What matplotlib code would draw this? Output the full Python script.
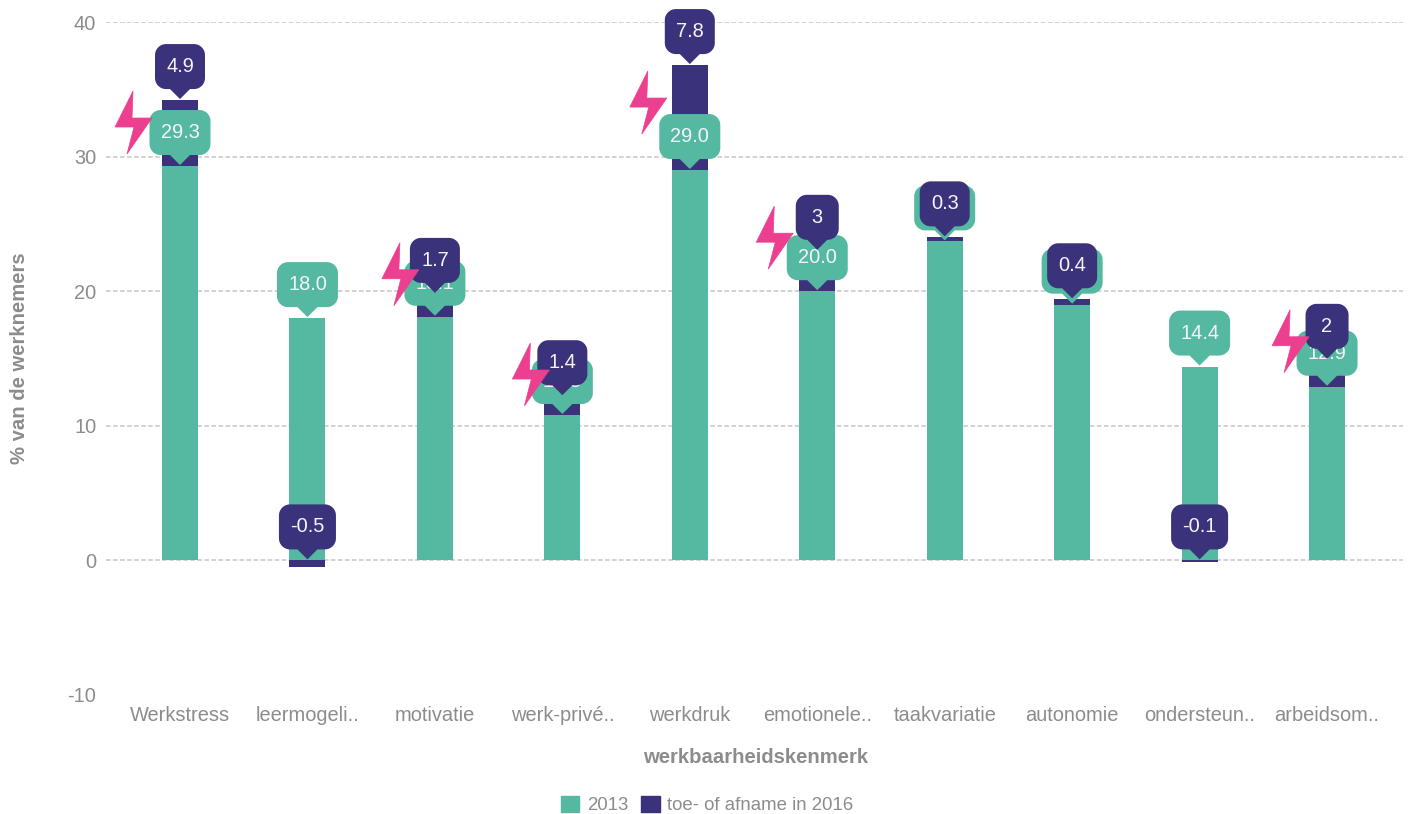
# -*- coding: utf-8 -*-
import numpy as np
import matplotlib
matplotlib.use("Agg")
import matplotlib.pyplot as plt
from matplotlib.path import Path
from matplotlib.patches import PathPatch, Patch
from matplotlib.transforms import Affine2D, ScaledTranslation

# ------------------------------------------------------------------ data
categories = ['Werkstress', 'leermogeli..', 'motivatie', 'werk-privé..', 'werkdruk',
              'emotionele..', 'taakvariatie', 'autonomie', 'ondersteun..', 'arbeidsom..']
values_2013 = [29.3, 18.0, 18.1, 10.8, 29.0, 20.0, 23.7, 19.0, 14.4, 12.9]
change_2016 = [4.9, -0.5, 1.7, 1.4, 7.8, 3, 0.3, 0.4, -0.1, 2]
change_labels = ['4.9', '-0.5', '1.7', '1.4', '7.8', '3', '0.3', '0.4', '-0.1', '2']
y_ticks = [-10, 0, 10, 20, 30, 40]

# bliksem: index balk -> (links t.o.v. balkmidden, onderkant boven balk) in pixels
BOLTS = {0: (-65, 12), 2: (-53, 11), 3: (-50, 9), 4: (-60, 36), 5: (-61, 22), 9: (-55, 14)}

GREEN = '#55B8A0'
DARK = '#3A327B'
PINK = '#EC3F8F'
GREY = '#8C8C8C'
FONT = 'Liberation Sans'

W, H = 1413, 814
PX_LEFT, PX_RIGHT, PX_Y40, PX_YM10 = 106, 1403, 22, 695
PX_X0, PX_STEP = 180, 127.45

plt.rcParams['font.family'] = FONT
plt.rcParams['axes.unicode_minus'] = False


def callout_path(w, box_h=45, tip_h=10, r=11, tip_w=10):
    """Afgeronde kader met punt; (0,0) = punt van het label, in pixels."""
    k = 0.45 * r
    b, t, l, e = tip_h, tip_h + box_h, -w / 2, w / 2
    verts = [(0, 0), (tip_w, b), (e - r, b),
             (e - k, b), (e, b + k), (e, b + r),
             (e, t - r),
             (e, t - k), (e - k, t), (e - r, t),
             (l + r, t),
             (l + k, t), (l, t - k), (l, t - r),
             (l, b + r),
             (l, b + k), (l + k, b), (l + r, b),
             (-tip_w, b), (0, 0)]
    codes = [Path.MOVETO, Path.LINETO, Path.LINETO,
             Path.CURVE4, Path.CURVE4, Path.CURVE4,
             Path.LINETO,
             Path.CURVE4, Path.CURVE4, Path.CURVE4,
             Path.LINETO,
             Path.CURVE4, Path.CURVE4, Path.CURVE4,
             Path.LINETO,
             Path.CURVE4, Path.CURVE4, Path.CURVE4,
             Path.LINETO, Path.CLOSEPOLY]
    return Path(verts, codes)


# bliksem, (0,0) = linksonder van de omhullende, in pixels
BOLT_PATH = Path([(18, 63), (0, 27), (19, 27), (12, 0), (37, 36), (17, 36), (18, 63)], closed=True)


def at_data(ax, x, y, dx=0, dy=0):
    return Affine2D().translate(dx, dy) + ScaledTranslation(x, y, ax.transData)


def callout(ax, x, y, text, color, w, z):
    ax.add_patch(PathPatch(callout_path(w), transform=at_data(ax, x, y, 0, 1), facecolor=color,
                           edgecolor='none', zorder=z, clip_on=False))
    ax.annotate(text, xy=(x, y), xytext=(0, 33.5), textcoords='offset pixels', ha='center',
                va='center', color='#F4F4F8', fontsize=14.4, zorder=z + 0.1, annotation_clip=False)


def main():
    fig = plt.figure(figsize=(W / 100, H / 100), dpi=100)
    ax = fig.add_axes([PX_LEFT / W, 1 - PX_YM10 / H, (PX_RIGHT - PX_LEFT) / W, (PX_YM10 - PX_Y40) / H])
    ax.set_ylim(-10, 40)
    ax.set_xlim((PX_LEFT - PX_X0) / PX_STEP, (PX_RIGHT - PX_X0) / PX_STEP)

    x = np.arange(len(categories))
    v = np.array(values_2013, dtype=float)
    d = np.array(change_2016, dtype=float)
    bw = 36 / PX_STEP

    ax.hlines(y_ticks[1:], *ax.get_xlim(), color='#C6C6C6', lw=1.1, linestyle=(0, (3.0, 1.6)), zorder=1)
    ax.bar(x, v, width=bw, color=GREEN, zorder=2)
    ax.bar(x, d, width=bw, bottom=np.where(d > 0, v, 0), color=DARK, zorder=2.5)

    for i in x:
        callout(ax, i, v[i], f"{v[i]:.1f}", GREEN, 61, 4)
    for i in x:
        tip = v[i] + d[i] if d[i] > 0 else 0
        lab = change_labels[i]
        callout(ax, i, tip, lab, DARK, {1: 43, 3: 50, 4: 57}[len(lab)], 5)
    for i, (dx, dy) in BOLTS.items():
        ax.add_patch(PathPatch(BOLT_PATH, transform=at_data(ax, i, v[i], dx, dy), facecolor=PINK,
                               edgecolor=PINK, lw=0.5, zorder=6, clip_on=False))

    for s in ax.spines.values():
        s.set_visible(False)
    ax.set_xticks(x, categories)
    ax.set_yticks(y_ticks)
    ax.tick_params(length=0, labelsize=14.4, labelcolor=GREY)
    ax.tick_params(axis='x', pad=8)
    ax.tick_params(axis='y', pad=7)

    fig.text(756 / W, 1 - 757.5 / H, 'werkbaarheidskenmerk', ha='center', va='center',
             fontsize=14.6, fontweight='bold', color=GREY)
    fig.text(20 / W, 1 - 358 / H, '% van de werknemers', ha='center', va='center', rotation=90,
             fontsize=14.6, fontweight='bold', color=GREY)

    handles = [Patch(color=GREEN, label='2013'), Patch(color=DARK, label='toe- of afname in 2016')]
    fig.legend(handles=handles, loc='center', bbox_to_anchor=(707 / W, 1 - 805 / H), ncol=2, frameon=False,
               fontsize=13.4, labelcolor=GREY, handlelength=1, handleheight=1, handletextpad=0.4,
               columnspacing=0.7)

    fig.savefig('out.png', dpi=100)


if __name__ == "__main__":
    main()
